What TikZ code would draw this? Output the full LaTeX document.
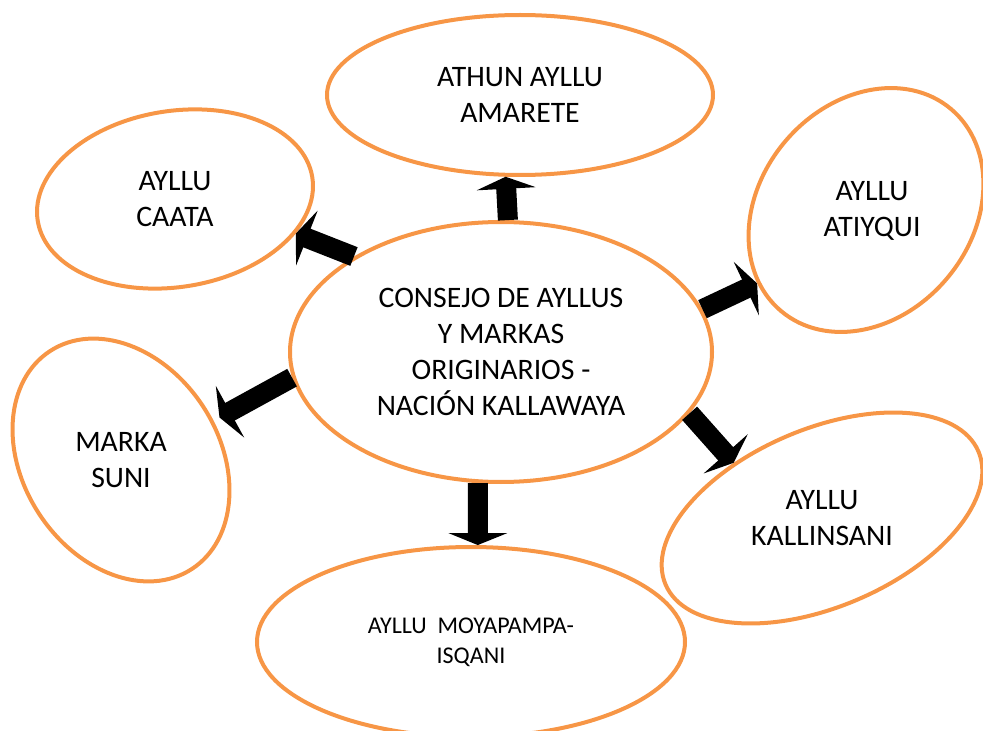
\documentclass[tikz,border=0pt]{standalone}
\usepackage{fontspec}
\setmainfont{Carlito}
\usetikzlibrary{shapes.geometric,arrows.meta}
\definecolor{naranja}{HTML}{F79646}

\begin{document}
\begin{tikzpicture}[x=0.75pt,y=-0.75pt,
    elipse/.style={draw=naranja,line width=3pt,ellipse,inner sep=0pt},
    texto/.style={align=center,font=\fontsize{22.3}{27}\selectfont},
    flecha/.style={line width=15pt,-{Triangle[length=9pt,width=44pt]}}]
%      \draw[help lines] (0,0) grid (983,731);
      \useasboundingbox (0,0) rectangle (983,731);

      \node[elipse,texto,minimum width=316.5pt,minimum height=195pt] (consejo) at (501,352)
            {CONSEJO DE AYLLUS\\Y MARKAS\\ORIGINARIOS -\\NACIÓN KALLAWAYA};
      \node[elipse,texto,minimum width=289.5pt,minimum height=120pt] (athun) at (520,95)
            {ATHUN AYLLU\\AMARETE};
      \node[elipse,align=center,font=\fontsize{18}{22.5}\selectfont,
            minimum width=321pt,minimum height=142.5pt] (moyapampa) at (471,642)
            {AYLLU~~MOYAPAMPA-\\ISQANI};

      % rotated ones, text on top
      \node[elipse,rotate=9,minimum width=208.5pt,minimum height=132pt] (caata) at (175,199) {};
      \node[texto] (caatatxt) at (caata) {AYLLU\\CAATA};
      \node[elipse,rotate=-40,minimum width=159pt,minimum height=198pt] (atiyqui) at (866,210) {};
      \node[texto] (atiyquitxt) at (872,211) {AYLLU\\ATIYQUI};
      \node[elipse,rotate=33,minimum width=147pt,minimum height=195pt] (marka) at (121,460) {};
      \node[texto] (markatxt) at (marka) {MARKA\\SUNI};
      \node[elipse,rotate=23,minimum width=255pt,minimum height=133.5pt] (kallinsani) at (822,518) {};
      \node[texto] (kallinsanitxt) at (kallinsani) {AYLLU\\KALLINSANI};

      \draw[flecha] (consejo.87)  -- (athun.260);
      \draw[flecha] (consejo.147) -- (caata.-25);
      \draw[flecha] (consejo.12)  -- (atiyqui.-106);
      \draw[flecha,shorten >=5pt] (consejo.187) -- (marka.-10);
      \draw[flecha] (consejo.-18) -- (kallinsani.125);
      \draw[flecha] (consejo.260) -- (moyapampa.86);
    \end{tikzpicture}
\end{document}
